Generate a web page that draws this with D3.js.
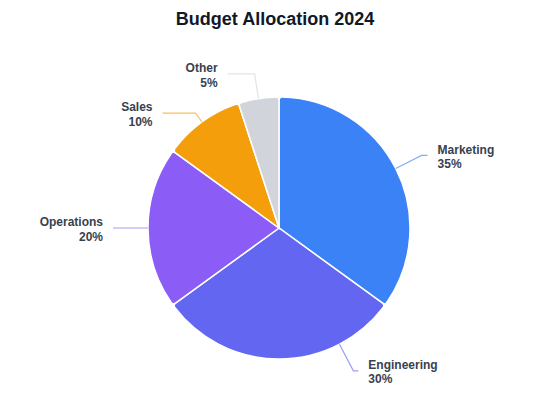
<!DOCTYPE html>
<html>
<head>
<meta charset="utf-8">
<script src="https://cdn.jsdelivr.net/npm/d3@7"></script>
<style>
  body { margin: 0; background: #fff; }
  text { font-family: "Liberation Sans", Arial, Helvetica, sans-serif; }
</style>
</head>
<body>
<div id="chart-area"></div>
<script>
// data
const categories = ["Marketing", "Engineering", "Operations", "Sales", "Other"];
const shares = [35, 30, 20, 10, 5];
const colors = ["#3b82f6", "#6366f1", "#8b5cf6", "#f59e0b", "#d1d5db"];

// label leader line layout (angle shift in degrees, radial length, horizontal length)
const labelLayout = {
	Marketing:   { shift: 0,     len1: 29, len2: 6 },
	Engineering: { shift: -27.5, len1: 30, len2: 5 },
	Operations:  { shift: 0,     len1: 30, len2: 5 },
	Sales:       { shift: 0,     len1: 11, len2: 33 },
	Other:       { shift: 0,     len1: 25, len2: 27 }
};

const width = 550,
	height = 400,
	cx = 279,
	cy = 228,
	radius = 131;

const svg = d3.select("#chart-area")
	.append("svg")
		.attr("width", width)
		.attr("height", height);

// title
svg.append("text")
	.attr("x", width / 2)
	.attr("y", 25)
	.attr("text-anchor", "middle")
	.attr("font-size", "18px")
	.attr("font-weight", "bold")
	.attr("fill", "#111827")
	.text("Budget Allocation 2024");

const g = svg.append("g")
	.attr("transform", "translate(" + cx + ", " + cy + ")");

const color = d3.scaleOrdinal()
	.domain(categories)
	.range(colors);

const pie = d3.pie()
	.sort(null)
	.value((d, i) => shares[i]);

const arcs = pie(categories);

const arc = d3.arc()
	.innerRadius(0)
	.outerRadius(radius)
	.cornerRadius(3);

// slices
g.selectAll("path.slice")
	.data(arcs)
	.enter()
	.append("path")
		.attr("class", "slice")
		.attr("d", arc)
		.attr("fill", d => color(d.data))
		.attr("stroke", "#fff")
		.attr("stroke-width", 1.5);

// leader lines + labels
function polar(a, r) {
	return [Math.sin(a) * r, -Math.cos(a) * r];
}

arcs.forEach((d, i) => {
	const name = d.data;
	const lay = labelLayout[name];
	const a = (d.startAngle + d.endAngle) / 2 + lay.shift * Math.PI / 180;
	const p0 = polar(a, radius);
	const p1 = polar(a, radius + lay.len1);
	const right = Math.sin(a) > 0.001 || (Math.abs(Math.sin(a)) <= 0.001 && false);
	const dir = Math.sin(a) >= 0 ? 1 : -1;
	const p2 = [p1[0] + dir * lay.len2, p1[1]];

	g.append("polyline")
		.attr("points", [p0, p1, p2].map(p => p.join(",")).join(" "))
		.attr("fill", "none")
		.attr("stroke", color(name))
		.attr("stroke-opacity", 0.65)
		.attr("stroke-width", 1.2);

	const label = g.append("text")
		.attr("x", p2[0] + dir * 10)
		.attr("y", p2[1])
		.attr("text-anchor", dir > 0 ? "start" : "end")
		.attr("font-size", "12px")
		.attr("font-weight", "bold")
		.attr("fill", "#374151");

	label.append("tspan")
		.attr("x", p2[0] + dir * 10)
		.attr("dy", "-0.15em")
		.text(name);

	label.append("tspan")
		.attr("x", p2[0] + dir * 10)
		.attr("dy", "1.2em")
		.text(shares[i] + "%");
});
</script>
</body>
</html>
